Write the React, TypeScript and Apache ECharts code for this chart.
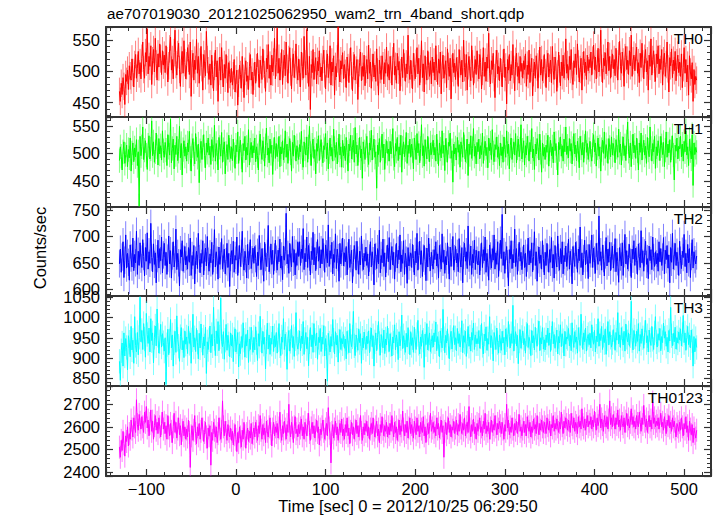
import React, { useEffect, useRef } from 'react';
import * as echarts from 'echarts';

const TITLE = 'ae707019030_20121025062950_wam2_trn_4band_short.qdp';
const X_LABEL = 'Time [sec] 0 = 2012/10/25 06:29:50';
const Y_LABEL = 'Counts/sec';
const T_START = -130;
const BIN_SEC = 1;
const X_MIN = -145;
const X_MAX = 530;
const X_STEP = 100;
const BAND_NAMES = ['TH0', 'TH1', 'TH2', 'TH3', 'TH0123'];
const ERR_HALF = [22, 22, 26, 30, 51];
const Y_MIN = [427, 403, 587, 831, 2382];
const Y_MAX = [571, 566, 756, 1053, 2781];
const Y_STEP = [50, 50, 50, 50, 100];

const th0 = [
  468,452,481,463,490,476,447,495,484,502,471,509,493,486,520,498,475,511,527,489,505,532,496,514,488,
  521,547,503,489,530,515,568,496,524,508,541,479,517,535,499,553,512,486,528,507,544,520,495,533,510,
  526,498,541,517,483,509,536,555,502,519,488,530,566,511,494,527,545,503,476,518,532,497,549,514,488,
  509,538,521,495,547,460,512,529,486,518,503,551,497,524,481,515,540,506,470,527,512,493,564,519,501,
  487,512,478,526,495,469,508,534,491,517,452,500,523,486,538,497,475,511,489,527,503,466,514,495,482,
  505,478,493,519,467,488,502,446,481,510,495,473,524,489,458,500,517,484,493,471,508,527,486,499,463,
  492,515,481,506,529,497,474,518,503,487,536,512,495,468,521,504,543,489,510,478,526,499,515,553,488,
  514,569,497,521,486,508,535,479,512,526,493,547,505,481,519,538,499,472,515,528,490,511,544,502,486,
  520,497,475,531,508,489,556,512,494,567,503,476,524,439,511,498,535,487,509,522,480,516,501,533,491,
  507,485,519,534,496,472,512,528,490,503,541,478,515,499,525,462,508,491,520,572,497,483,517,504,530,
  488,511,497,474,523,506,482,515,538,493,469,509,527,486,502,519,455,497,514,531,485,508,492,526,477,
  503,519,488,542,497,515,473,506,528,491,510,484,536,499,462,518,503,487,525,509,480,514,497,539,492,
  511,486,524,503,478,517,545,494,508,481,529,502,516,469,498,523,490,535,507,484,512,496,558,503,487,
  518,495,472,529,507,488,513,538,496,521,478,504,549,490,512,467,525,501,486,533,509,492,517,480,523,
  498,515,486,541,505,479,520,497,531,464,510,526,489,503,517,474,536,508,492,521,456,505,529,498,513,
  487,522,501,476,535,512,494,518,483,550,506,491,527,470,509,524,497,485,541,512,478,503,519,495,533,
  506,488,527,514,472,500,538,492,515,484,523,505,561,497,480,517,503,529,490,458,512,534,496,508,485,
  521,498,475,513,536,490,507,448,519,502,527,485,511,494,543,503,469,516,529,492,508,481,524,500,513,
  489,517,503,528,476,510,495,534,482,506,521,461,498,515,489,525,507,473,512,539,494,519,485,503,527,
  498,474,512,529,491,505,518,482,540,501,487,523,510,468,496,531,504,477,515,493,526,489,508,552,497,
  511,486,524,503,535,492,479,517,506,528,495,544,512,483,503,521,470,509,532,498,515,487,526,501,519,
  506,531,494,518,542,503,523,488,512,537,499,514,566,505,482,521,509,530,496,515,547,501,524,489,513,
  528,504,519,493,537,512,486,525,548,508,497,531,515,476,522,540,503,518,495,533,509,558,492,517,526,
  501,523,539,497,514,482,529,506,545,512,488,521,535,499,517,470,526,508,552,494,519,533,505,484,528,
  512,541,496,520,503,535,478,517,529,492,511,547,504,467,522,509,536,490,518,501,532,485,514,526,498,
  515,492,528,474,506,538,497,519,483,510,462,525,499,488,514,452,503,479,492,486,
];

const th1 = [
  487,512,495,470,503,521,482,498,515,476,507,492,528,468,501,519,485,510,494,525,478,503,405,531,496,
  512,548,489,506,523,497,471,515,532,490,508,559,496,521,484,503,537,512,479,527,499,514,488,541,505,
  493,520,506,478,534,511,497,562,483,509,526,472,515,498,531,487,504,549,492,518,461,507,523,495,512,
  486,519,503,540,491,468,514,527,499,481,536,508,493,517,447,505,522,489,511,534,496,474,519,502,528,
  497,513,480,525,508,493,551,486,518,502,470,529,511,495,538,484,507,521,463,500,516,489,533,506,491,
  512,487,526,498,473,515,503,539,482,509,524,494,466,518,505,531,488,511,497,543,479,506,520,492,514,
  501,528,485,512,496,470,519,535,503,489,523,508,477,514,546,497,510,483,526,500,515,462,507,529,491,
  518,494,507,531,476,512,499,523,488,505,541,493,517,482,509,527,501,468,520,495,533,510,486,514,502,
  489,516,503,540,492,475,521,508,497,530,484,512,549,500,478,515,526,491,507,463,518,504,532,487,511,
  525,498,483,514,507,536,490,519,472,503,528,495,511,486,544,509,493,520,481,506,535,497,512,475,524,
  496,513,487,529,502,468,517,505,533,490,511,524,484,547,499,515,478,506,529,492,508,455,521,503,489,
  514,531,497,480,519,506,542,488,511,526,493,503,437,515,498,527,484,509,535,492,517,471,504,523,500,
  508,486,522,499,513,545,491,476,518,504,529,487,512,497,533,466,510,521,494,507,538,482,515,500,526,
  493,517,505,472,528,511,489,536,501,518,483,509,552,496,514,477,525,503,490,531,507,485,519,498,512,
  524,497,511,486,535,503,478,519,508,492,541,500,515,469,527,506,484,520,513,537,491,505,448,517,499,
  510,488,529,502,516,475,521,507,493,538,512,485,504,526,460,517,498,532,491,509,545,495,513,481,520,
  503,526,490,514,498,537,482,509,522,496,511,474,528,505,519,489,543,501,485,516,507,530,493,512,478,
  519,496,512,484,530,507,493,541,500,517,472,514,528,489,505,521,497,536,483,510,526,494,508,552,490,
  506,523,479,514,497,531,510,486,520,503,545,492,508,471,517,499,527,513,488,535,502,466,519,495,511,
  489,515,502,533,477,508,524,496,512,483,539,505,518,492,461,520,507,530,495,514,486,526,503,548,498,
  513,492,527,504,518,481,509,536,499,515,487,522,506,474,531,510,497,520,484,513,541,502,518,489,507,
  522,498,486,515,534,503,519,477,510,528,495,512,468,507,524,500,539,491,516,505,482,527,511,494,530,
  497,518,506,483,525,511,493,544,502,517,479,509,530,496,514,487,521,557,504,492,519,476,512,535,501,
  515,491,528,505,470,519,502,537,488,511,524,497,513,482,529,506,494,548,509,486,518,503,531,473,512,
  496,523,509,487,531,514,498,520,476,506,539,493,517,501,525,484,510,532,497,452,515,504,528,490,513,
  508,531,494,517,486,522,503,541,497,512,478,526,505,490,534,442,519,498,511,502,
];

const th2 = [
  648,676,632,661,690,622,655,703,640,668,651,617,684,659,642,697,635,666,650,710,628,672,645,688,657,
  641,694,662,625,679,653,707,638,671,649,725,660,633,686,647,669,612,658,693,640,677,654,699,631,665,
  687,645,670,628,659,701,648,673,621,663,690,642,656,714,637,668,650,606,675,661,692,634,657,681,646,
  662,638,679,651,697,626,664,645,683,610,655,672,639,706,658,631,668,649,692,627,661,678,644,700,653,
  634,667,650,689,628,658,713,642,671,655,619,680,647,663,696,638,659,676,629,652,687,641,668,605,660,
  673,648,691,632,664,655,699,626,657,683,643,668,710,651,636,672,658,621,685,646,663,694,639,656,678,
  649,681,658,624,670,645,702,662,637,677,652,615,689,660,643,668,721,633,655,686,647,674,628,661,693,
  657,636,674,652,695,640,663,618,682,655,671,744,648,666,630,687,659,642,700,651,675,627,668,645,690,
  662,690,645,676,658,715,637,668,652,699,641,683,661,627,672,656,708,646,679,635,664,694,653,681,640,
  675,648,696,661,632,684,667,650,722,643,673,658,689,629,666,651,705,639,676,660,615,687,648,670,697,
  644,669,652,681,627,663,695,641,658,674,612,650,683,665,636,691,655,628,672,646,701,660,637,668,653,
  680,645,667,625,659,690,642,671,654,608,686,662,639,677,648,712,631,664,650,695,643,669,623,657,684,
  652,698,637,663,681,646,670,619,659,687,640,674,656,703,633,665,649,692,628,668,655,611,679,644,661,
  669,641,685,658,627,672,650,706,636,664,691,647,673,624,659,683,653,616,678,642,697,660,635,670,649,
  638,675,656,690,644,667,621,683,659,638,705,651,674,630,662,646,688,655,619,680,643,669,700,636,658,
  681,650,668,633,696,657,642,679,612,664,687,653,671,639,720,659,645,682,628,666,650,693,637,674,655,
  646,672,627,661,688,641,675,654,699,632,668,650,617,684,663,640,677,655,703,638,669,647,690,624,661,
  693,658,742,645,671,630,664,681,648,606,675,657,692,639,666,650,714,643,677,628,660,689,653,670,637,
  655,684,641,668,624,659,697,646,673,650,688,633,662,709,645,671,615,656,680,649,665,638,692,658,627,
  670,645,687,659,632,675,651,698,640,666,621,683,655,642,701,660,636,677,648,690,629,664,652,682,643,
  661,695,638,672,650,610,681,657,643,689,665,632,676,654,718,641,669,627,658,693,646,674,659,620,685,
  649,667,703,641,678,655,630,687,662,647,739,653,671,636,684,658,625,665,698,644,676,651,689,635,663,
  682,640,659,696,633,670,652,613,679,661,644,688,626,667,704,648,673,638,660,685,651,622,676,657,692,
  645,678,655,628,686,662,641,711,650,673,634,669,691,647,658,620,682,654,675,637,699,660,643,671,648,
  668,634,690,652,677,645,661,698,629,674,656,683,640,665,612,679,651,706,638,662,687,645,670,653,626,
  691,655,639,672,660,704,643,668,631,685,650,677,622,662,694,640,671,656,648,663,
];

const th3 = [
  892,845,918,937,880,962,905,948,926,871,955,939,903,978,920,944,887,1002,931,915,963,908,951,1050,940,
  968,921,985,947,902,1010,958,936,974,915,997,943,962,888,951,979,930,1021,956,912,940,983,927,960,938,
  917,950,835,933,971,908,942,995,925,957,880,938,966,914,1004,946,929,892,953,975,920,943,901,967,934,
  952,911,978,936,962,887,945,1008,927,950,916,973,939,898,961,925,984,944,907,952,930,976,862,940,921,
  945,979,913,958,930,1025,948,906,967,935,990,918,952,1048,941,928,965,897,944,983,919,956,935,903,962,
  930,957,891,946,972,915,940,963,878,935,911,953,926,987,944,902,958,930,969,889,947,921,976,938,914,
  951,920,977,938,894,960,929,1003,945,912,966,934,951,873,940,986,922,957,909,949,934,979,916,955,928,
  963,912,945,985,930,906,952,939,997,921,959,934,872,948,968,917,941,980,926,953,904,947,1012,936,922,
  939,967,918,954,935,990,909,946,963,923,951,881,940,975,928,957,914,985,944,930,962,897,951,938,973,
  916,952,934,980,905,948,926,843,961,937,915,953,929,995,944,910,965,932,956,890,942,970,921,948,935,
  958,924,947,898,966,939,913,985,942,928,952,1015,930,906,957,944,919,972,938,960,887,949,925,964,941,
  921,954,935,967,913,946,974,928,955,880,940,962,918,951,990,936,907,958,943,925,969,911,947,932,978,
  944,916,960,933,905,952,937,982,920,957,941,896,965,930,948,1006,923,955,938,914,961,927,975,940,908,
  965,931,950,914,976,942,921,958,993,936,910,952,929,968,944,877,959,933,985,920,947,962,916,941,955,
  927,962,940,989,918,953,935,903,967,944,925,1020,948,913,956,937,972,930,898,951,966,922,945,980,933,
  950,918,973,936,960,927,945,992,913,955,939,966,904,941,978,929,952,917,963,944,986,921,957,935,948,
  935,968,924,952,985,931,910,959,942,977,919,948,934,1002,926,955,940,893,963,950,921,974,938,912,957,
  942,919,966,937,951,908,972,945,928,990,953,925,960,936,1030,917,948,965,930,956,886,942,970,924,951,
  967,933,948,912,959,985,926,951,940,906,968,937,955,920,976,944,929,963,991,918,950,935,975,922,945,
  920,957,938,974,931,962,916,949,990,935,958,924,945,969,910,953,937,982,928,960,943,905,966,934,952,
  948,973,930,956,918,987,944,926,965,939,952,912,975,946,931,1008,955,921,962,940,974,917,949,958,933,
  961,925,982,947,934,968,915,954,940,997,929,960,943,978,921,956,938,972,909,948,990,932,965,951,927,
  938,970,952,919,963,944,1012,935,957,926,975,948,932,966,917,984,951,940,962,929,955,1040,943,920,968,
  952,929,966,941,985,917,958,936,972,950,924,963,993,938,955,915,969,945,931,978,946,921,962,1002,940,
  927,960,944,973,918,953,938,986,949,965,929,951,915,968,942,1025,955,930,961,940,976,922,950,937,964,
  945,972,930,958,1005,938,962,919,951,978,933,957,925,969,942,880,953,915,948,926,
];

const th0123 = [
  2510,2465,2540,2495,2580,2525,2470,2560,2535,2600,2515,2570,2545,2630,2590,2555,2640,2600,2575,2720,2610,2585,2655,2620,2590,
  2645,2600,2575,2665,2620,2690,2595,2630,2560,2615,2675,2580,2625,2545,2605,2650,2585,2620,2570,2640,2600,2555,2615,2665,2590,
  2620,2570,2605,2545,2650,2595,2560,2615,2580,2530,2600,2660,2575,2620,2550,2590,2640,2565,2605,2520,2585,2625,2560,2600,2545,
  2590,2555,2630,2575,2420,2560,2605,2540,2585,2650,2570,2525,2600,2560,2615,2545,2580,2640,2590,2535,2575,2620,2555,2505,2595,
  2560,2605,2430,2575,2540,2620,2585,2555,2600,2530,2570,2640,2590,2545,2580,2715,2600,2560,2625,2575,2540,2610,2580,2555,2595,
  2540,2580,2520,2565,2610,2545,2490,2575,2530,2600,2555,2510,2585,2545,2620,2560,2505,2570,2595,2535,2580,2550,2615,2525,2570,
  2595,2555,2620,2580,2540,2605,2570,2650,2585,2545,2610,2565,2595,2530,2625,2580,2555,2600,2640,2570,2515,2590,2620,2560,2600,
  2575,2615,2550,2595,2665,2580,2540,2605,2570,2625,2590,2545,2610,2575,2700,2585,2555,2620,2595,2530,2600,2645,2570,2590,2555,
  2610,2570,2595,2635,2560,2600,2545,2620,2585,2560,2610,2660,2575,2540,2595,2620,2570,2605,2550,2585,2630,2575,2600,2520,2590,
  2565,2600,2630,2580,2545,2590,2615,2560,2685,2595,2570,2440,2575,2610,2550,2590,2625,2565,2600,2540,2580,2615,2575,2635,2560,
  2590,2545,2610,2575,2640,2560,2595,2525,2580,2620,2565,2600,2545,2585,2630,2570,2605,2555,2590,2650,2575,2540,2600,2565,2615,
  2580,2625,2560,2600,2545,2590,2615,2570,2640,2585,2555,2600,2625,2560,2590,2530,2610,2575,2645,2590,2560,2605,2580,2620,2555,
  2600,2565,2615,2580,2650,2590,2555,2620,2575,2600,2540,2585,2630,2565,2605,2580,2670,2590,2560,2610,2575,2625,2550,2595,2640,
  2570,2610,2585,2550,2625,2595,2565,2640,2580,2605,2555,2620,2590,2575,2645,2560,2600,2530,2585,2615,2570,2600,2660,2580,2595,
  2620,2575,2600,2560,2640,2590,2615,2550,2595,2630,2575,2605,2465,2580,2620,2565,2595,2640,2575,2610,2555,2600,2585,2625,2570,
  2595,2630,2565,2610,2580,2655,2595,2570,2615,2585,2640,2560,2600,2620,2575,2690,2590,2555,2610,2580,2635,2570,2600,2545,2615,
  2580,2610,2640,2575,2600,2560,2625,2590,2660,2570,2605,2580,2620,2545,2595,2630,2575,2610,2585,2650,2600,2565,2615,2590,2625,
  2605,2570,2620,2590,2545,2610,2580,2700,2595,2630,2565,2600,2575,2640,2590,2560,2615,2585,2625,2570,2605,2655,2580,2600,2560,
  2590,2625,2575,2610,2560,2645,2600,2580,2620,2555,2600,2575,2635,2590,2610,2570,2650,2595,2565,2615,2585,2630,2600,2575,2620,
  2600,2570,2640,2605,2585,2625,2560,2610,2595,2650,2580,2615,2590,2635,2600,2575,2620,2590,2665,2605,2570,2625,2595,2640,2610,
  2585,2630,2605,2575,2660,2610,2595,2640,2580,2620,2605,2570,2645,2600,2625,2590,2680,2610,2595,2635,2585,2615,2650,2600,2625,
  2610,2645,2590,2630,2600,2670,2615,2585,2640,2605,2625,2700,2595,2635,2610,2580,2650,2620,2600,2645,2590,2630,2715,2610,2640,
  2600,2655,2620,2590,2640,2610,2675,2600,2630,2585,2650,2615,2600,2640,2575,2625,2660,2605,2635,2595,2620,2680,2610,2645,2600,
  2625,2590,2650,2615,2600,2665,2620,2580,2640,2610,2695,2625,2600,2635,2575,2620,2650,2600,2630,2590,2710,2615,2640,2600,2625,
  2605,2640,2590,2625,2660,2600,2620,2585,2645,2610,2570,2630,2605,2650,2595,2620,2580,2640,2600,2625,2590,2555,2615,2600,2580,
  2620,2585,2640,2600,2560,2615,2590,2645,2575,2605,2540,2625,2590,2565,2610,2530,2595,2570,2550,2585,
];

const BANDS = [th0, th1, th2, th3, th0123];
const LINE_COLORS = ['#ff0000', '#00ff00', '#0000ff', '#00ffff', '#ff00ff'];
const BAR_COLORS = ['rgba(255,0,0,0.5)', 'rgba(0,255,0,0.5)', 'rgba(0,0,255,0.5)', 'rgba(0,255,255,0.5)', 'rgba(255,0,255,0.5)'];

const FONT = 'Liberation Sans';
const FS_AX = 16.5;
const FS_TITLE = 15.2;
const FS_TAG = 15.5;
const PANEL_EDGES = [27, 117, 207, 296, 386, 476];
const LEFT = 106;
const RIGHT = 6;
const FRAME = '#333333';

function fmtX(v: number) {
  return v < 0 ? '\u2212' + Math.abs(v) : String(v);
}

export default function App() {
  const ref = useRef<HTMLDivElement>(null);
  useEffect(() => {
    if (!ref.current) return;
    const chart = echarts.init(ref.current, undefined, { renderer: 'svg' });
    const grids: any[] = [];
    const xAxes: any[] = [];
    const yAxes: any[] = [];
    const series: any[] = [];
    const graphics: any[] = [];
    const axisLine = { show: true, onZero: false, lineStyle: { color: FRAME, width: 2 } };
    const axisTick = { show: true, inside: true, length: 7, lineStyle: { color: FRAME, width: 1.2 } };
    const minorTick = { show: true, splitNumber: 5, length: 4, lineStyle: { color: FRAME, width: 1 } };
    BANDS.forEach((vals, i) => {
      const top = PANEL_EDGES[i];
      const h = PANEL_EDGES[i + 1] - top;
      grids.push({ left: LEFT, right: RIGHT, top, height: h, containLabel: false });
      const xBase = {
        type: 'value', gridIndex: i, min: X_MIN, max: X_MAX, splitNumber: 6,
        minInterval: X_STEP, maxInterval: X_STEP, axisLine, axisTick, minorTick,
        splitLine: { show: false }, minorSplitLine: { show: false },
      };
      xAxes.push({
        ...xBase, position: 'bottom',
        axisLabel: i === BANDS.length - 1
          ? { show: true, margin: 4, color: '#000', fontFamily: FONT, fontSize: FS_AX, formatter: fmtX, showMinLabel: false, showMaxLabel: false }
          : { show: false },
      });
      xAxes.push({ ...xBase, position: 'top', axisLabel: { show: false } });
      const yBase = {
        type: 'value', gridIndex: i, min: Y_MIN[i], max: Y_MAX[i], splitNumber: 3,
        minInterval: Y_STEP[i], maxInterval: Y_STEP[i], axisLine, axisTick, minorTick,
        splitLine: { show: false }, minorSplitLine: { show: false },
      };
      yAxes.push({
        ...yBase, position: 'left',
        axisLabel: {
          show: true, margin: 6, color: '#000', fontFamily: FONT, fontSize: FS_AX,
          formatter: (v: number) => String(v), showMinLabel: false, showMaxLabel: false,
        },
      });
      yAxes.push({ ...yBase, position: 'right', axisLabel: { show: false } });
      const data = vals.map((v, k) => [T_START + k * BIN_SEC, v, ERR_HALF[i]]);
      const barColor = BAR_COLORS[i];
      series.push({
        type: 'custom', xAxisIndex: 2 * i, yAxisIndex: 2 * i, data, clip: true, silent: true, z: 1,
        renderItem: (params: any, api: any) => {
          const x = api.value(0);
          const y = api.value(1);
          const e = api.value(2);
          const p1 = api.coord([x, y - e]);
          const p2 = api.coord([x, y + e]);
          return {
            type: 'line',
            shape: { x1: p1[0], y1: p1[1], x2: p2[0], y2: p2[1] },
            style: { stroke: barColor, lineWidth: 1 },
          };
        },
      });
      series.push({
        type: 'line', xAxisIndex: 2 * i, yAxisIndex: 2 * i,
        data: data.map((d) => [d[0], d[1]]),
        showSymbol: false, symbol: 'none', silent: true, z: 2,
        lineStyle: { color: LINE_COLORS[i], width: 1 }, itemStyle: { color: LINE_COLORS[i] },
      });
      graphics.push({
        type: 'text', right: 14, top: top + 3, z: 10,
        style: { text: BAND_NAMES[i], fill: '#000', font: `${FS_TAG}px "${FONT}"`, textAlign: 'right' },
      });
    });
    graphics.push({
      type: 'text', left: 107, top: 6, z: 10,
      style: { text: TITLE, fill: '#000', font: `${FS_TITLE}px "${FONT}"` },
    });
    graphics.push({
      type: 'text', x: 408, y: 506, z: 10,
      style: { text: X_LABEL, fill: '#000', font: `${FS_AX}px "${FONT}"`, textAlign: 'center', textVerticalAlign: 'middle' },
    });
    graphics.push({
      type: 'text', x: 40, y: 248, rotation: Math.PI / 2, z: 10,
      style: { text: Y_LABEL, fill: '#000', font: `${FS_AX}px "${FONT}"`, textAlign: 'center', textVerticalAlign: 'middle' },
    });
    chart.setOption({
      animation: false,
      backgroundColor: '#ffffff',
      grid: grids,
      xAxis: xAxes,
      yAxis: yAxes,
      series,
      graphic: graphics,
    });
    return () => chart.dispose();
  }, []);
  return <div ref={ref} style={{ position: 'fixed', left: 0, top: 0, width: 717, height: 516 }} />;
}
